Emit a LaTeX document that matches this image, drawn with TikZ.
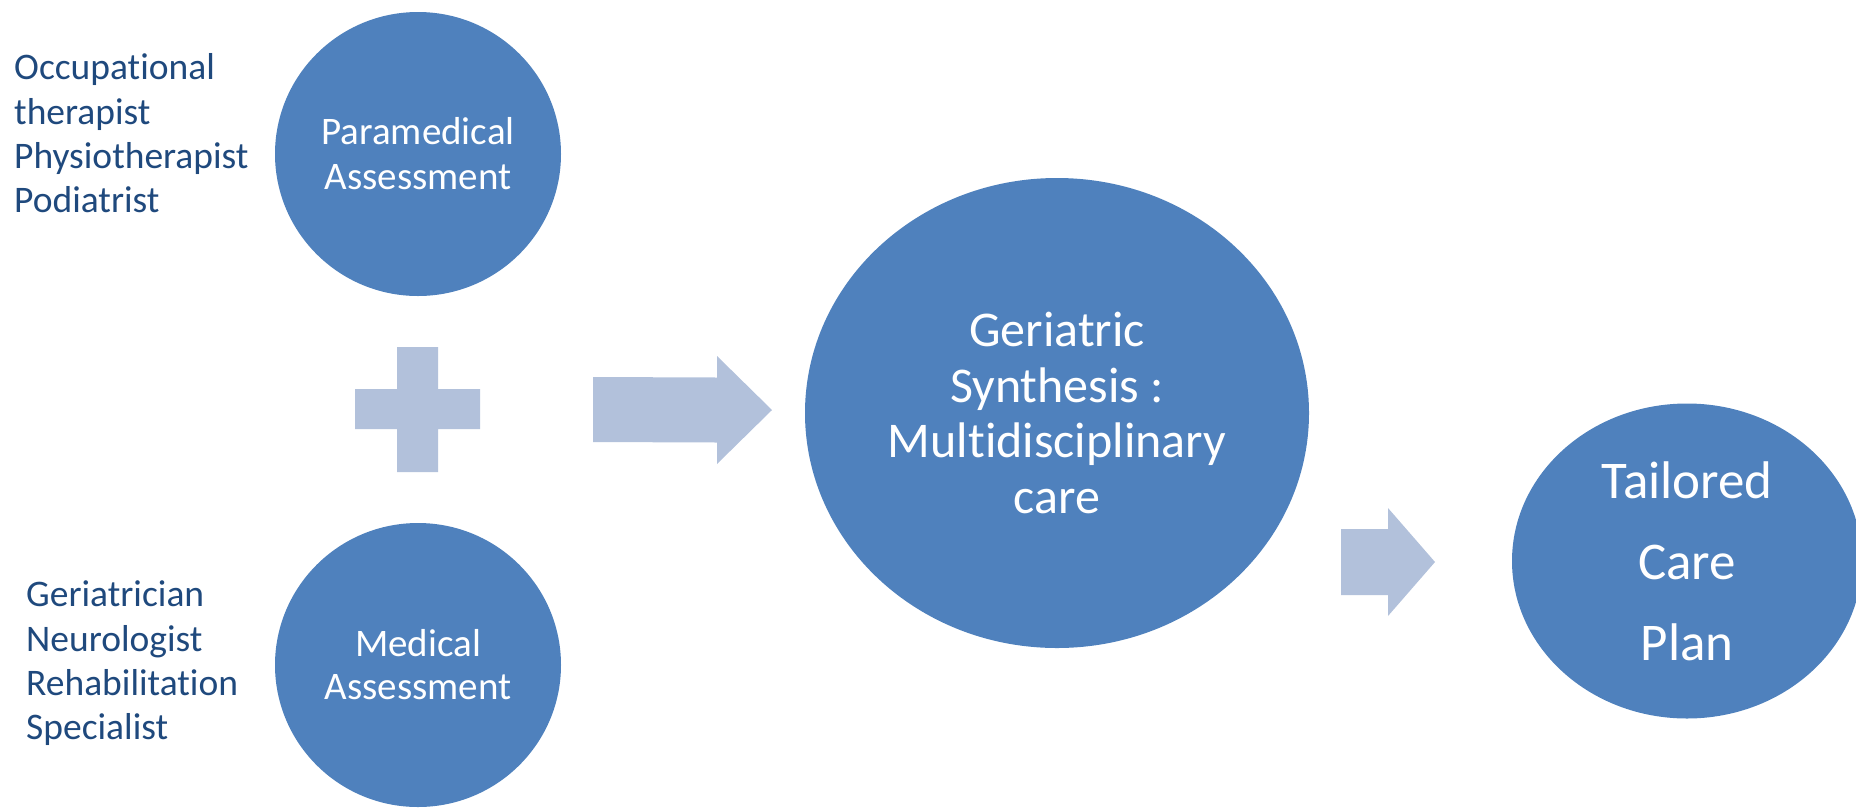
\documentclass[tikz,border=0pt]{standalone}
\usepackage{fontspec}
\setmainfont{Carlito}[Ligatures=NoCommon]
\usetikzlibrary{shapes.geometric}
\definecolor{circblue}{RGB}{79,129,189}
\definecolor{lightshape}{RGB}{178,193,219}
\definecolor{darktext}{RGB}{31,73,125}
\begin{document}
\begin{tikzpicture}[x=1pt,y=-1pt,
  bubble/.style={ellipse, fill=circblue, draw=none, inner sep=0pt, text=white, align=center},
  listline/.style={text=darktext, anchor=base west, inner sep=0pt, font=\fontsize{37.5}{45}\selectfont},
  blockshape/.style={fill=lightshape, draw=none}]
\useasboundingbox (0,0) rectangle (1856,807);
\clip (0,0) rectangle (1856,807);
% bubbles
\node[bubble, minimum width=286pt, minimum height=284pt, font=\fontsize{39}{45}\selectfont] (para) at (418,154) {Paramedical\\Assessment};
\node[bubble, minimum width=286pt, minimum height=284pt, font=\fontsize{39}{43}\selectfont] (med) at (418,665) {Medical\\Assessment};
\node[bubble, minimum width=504pt, minimum height=470pt, font=\fontsize{50}{55.7}\selectfont] (geri) at (1057,413) {Geriatric\\Synthesis :\\Multidisciplinary\\care};
\node[bubble, minimum width=350pt, minimum height=315pt, font=\fontsize{53}{81}\selectfont] (plan) at (1687,561) {Tailored\\Care\\Plan};
% left lists
\node[listline] (l1) at (14,79) {Occupational};
\node[listline] (l2) at (14,124) {therapist};
\node[listline] (l3) at (14,168) {Physiotherapist};
\node[listline] (l4) at (14,212) {Podiatrist};
\node[listline] (m1) at (26,606) {Geriatrician};
\node[listline] (m2) at (26,651) {Neurologist};
\node[listline] (m3) at (26,695) {Rehabilitation};
\node[listline] (m4) at (26,739) {Specialist};
% plus sign
\fill[blockshape] (397,347) -- (438,347) -- (438,389) -- (480,389) -- (480,429) -- (438,429)
  -- (438,472) -- (397,472) -- (397,429) -- (355,429) -- (355,389) -- (397,389) -- cycle;
% block arrows
\fill[blockshape] (593,377) -- (717,377.5) -- (717,356) -- (772,410) -- (717,464) -- (717,442.5) -- (593,442) -- cycle;
\fill[blockshape] (1341,529) -- (1388,529) -- (1388,508) -- (1435,562) -- (1388,616) -- (1388,595) -- (1341,595) -- cycle;
\end{tikzpicture}
\end{document}
